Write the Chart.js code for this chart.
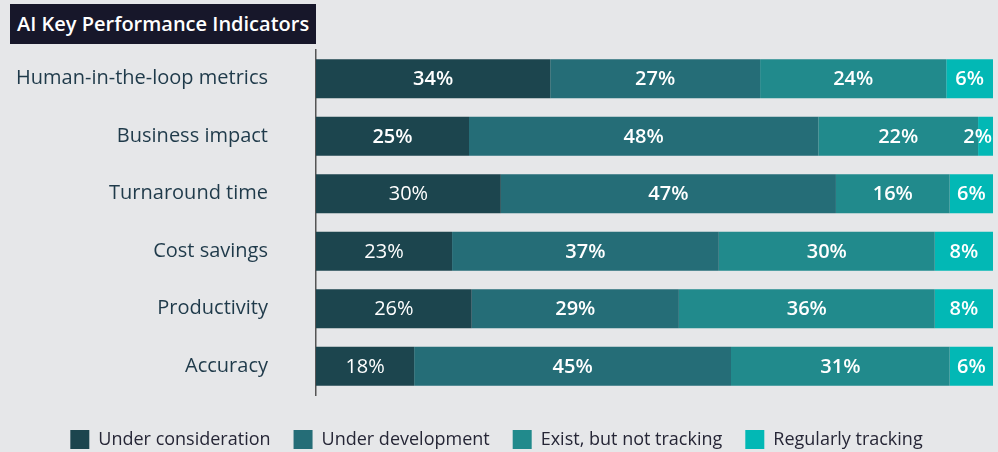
<!DOCTYPE html>
<html>
<head>
<meta charset="utf-8">
<script src="https://cdn.jsdelivr.net/npm/chart.js@4.4.1/dist/chart.umd.min.js"></script>
<style>
  html, body { margin: 0; padding: 0; background: #e6e7e9; }
  #wrap { position: relative; width: 998px; height: 452px; background: #e6e7e9; overflow: hidden; }
  #title { position: absolute; left: 10px; top: 4px; width: 299px; height: 40px; padding-left: 7px;
           background: #17172a; color: #ffffff; font: 600 20px "Open Sans", sans-serif; line-height: 39px; white-space: nowrap; }
  canvas { position: absolute; left: 0; top: 0; }
</style>
</head>
<body>
<div id="wrap">
  <canvas id="c" width="998" height="452"></canvas>
  <div id="title">AI Key Performance Indicators</div>
</div>
<script>
// Categories (top to bottom)
const categories = ['Human-in-the-loop metrics', 'Business impact', 'Turnaround time', 'Cost savings', 'Productivity', 'Accuracy'];
const seriesNames = ['Under consideration', 'Under development', 'Exist, but not tracking', 'Regularly tracking'];

// Bar segment lengths as drawn (share of each bar, %)
const underConsideration = [34.6, 22.6, 27.3, 20.1, 23.0, 14.5];
const underDevelopment   = [31.0, 51.6, 49.5, 39.4, 30.6, 46.8];
const existNotTracking   = [27.5, 23.6, 16.8, 31.9, 37.8, 32.3];
const regularlyTracking  = [6.9, 2.2, 6.4, 8.6, 8.6, 6.4];

// Printed percentage labels
const considerationPct = [34, 25, 30, 23, 26, 18];
const developmentPct   = [27, 48, 47, 37, 29, 45];
const existPct         = [24, 22, 16, 30, 36, 31];
const regularPct       = [6, 2, 6, 8, 8, 6];

const colors = ['#1c454e', '#256d77', '#218a8c', '#02b8b5'];
const values = [underConsideration, underDevelopment, existNotTracking, regularlyTracking];
const pctLabels = [considerationPct, developmentPct, existPct, regularPct];
// label weights: first series rows 3-6 are printed regular weight
const boldFlags = [[true, true, false, false, false, false], null, null, null];

const FONT = '"Open Sans", sans-serif';

const segmentLabels = {
  id: 'segmentLabels',
  afterDatasetsDraw(chart) {
    const ctx = chart.ctx;
    ctx.save();
    ctx.fillStyle = '#ffffff';
    ctx.textBaseline = 'middle';
    ctx.textAlign = 'center';
    chart.data.datasets.forEach((ds, di) => {
      const meta = chart.getDatasetMeta(di);
      meta.data.forEach((el, i) => {
        const bold = boldFlags[di] ? boldFlags[di][i] : true;
        ctx.font = (bold ? '600 ' : '400 ') + '20px ' + FONT;
        const txt = pctLabels[di][i] + '%';
        const w = ctx.measureText(txt).width;
        const left = Math.min(el.x, el.base), right = Math.max(el.x, el.base);
        let cx = (left + right) / 2;
        if (cx + w / 2 > right - 1) cx = right - 1 - w / 2;
        ctx.fillText(txt, cx, el.y + 1);
      });
    });
    ctx.restore();
  }
};

new Chart(document.getElementById('c'), {
  type: 'bar',
  data: {
    labels: categories,
    datasets: seriesNames.map((name, k) => ({
      label: name,
      data: values[k],
      backgroundColor: colors[k],
      borderWidth: 0,
      barPercentage: 0.678,
      categoryPercentage: 1.0
    }))
  },
  options: {
    indexAxis: 'y',
    responsive: false,
    animation: false,
    layout: { padding: { top: 50, right: 5, left: 0, bottom: -7 } },
    scales: {
      x: {
        stacked: true, min: 0, max: 100,
        grid: { display: false }, border: { display: false },
        ticks: { display: false },
        afterFit(s) { s.height = 12; }
      },
      y: {
        stacked: true,
        grid: { display: false, drawTicks: true, tickLength: 48 },
        border: { display: true, color: '#555555', width: 1.5 },
        ticks: { color: '#1f3a4a', font: { family: FONT, size: 20 }, padding: 0 },
        afterFit(s) { s.width = 316; }
      }
    },
    plugins: {
      legend: {
        position: 'bottom',
        labels: {
          boxWidth: 19, boxHeight: 19, padding: 23,
          color: '#262636',
          font: { family: FONT, size: 18 }
        }
      },
      tooltip: { enabled: false }
    }
  },
  plugins: [segmentLabels]
});
</script>
</body>
</html>
